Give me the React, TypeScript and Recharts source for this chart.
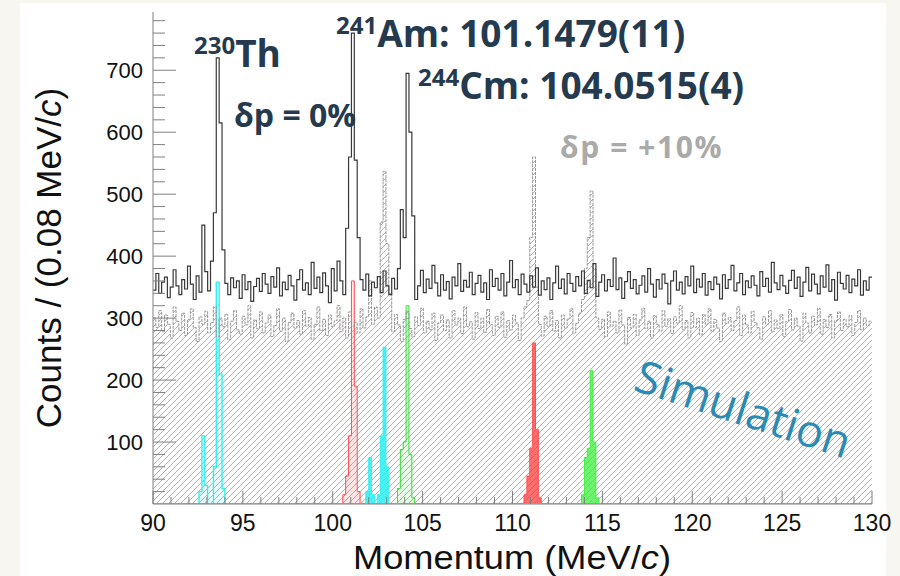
import React from "react";
import { Area, ComposedChart, Line, XAxis, YAxis } from "recharts";

// bin layout (MeV/c)
const xMin = 90;
const xMax = 130;
const binWidth = 0.16;

const countsNominal = [
  345, 372, 340, 358, 366, 333, 350, 378, 352, 338,
  362, 347, 384, 355, 330, 368, 342, 450, 375, 344,
  392, 470, 720, 615, 410, 356, 338, 365, 349, 360,
  332, 370, 346, 359, 327, 351, 364, 343, 372, 355,
  340, 367, 350, 381, 336, 358, 346, 369, 352, 329,
  362, 378, 345, 357, 338, 390, 348, 366, 341, 373,
  352, 325, 380, 344, 392, 360, 338, 445, 560, 760,
  555, 430, 362, 345, 371, 336, 358, 349, 367, 341,
  376, 352, 338, 364, 347, 380, 475, 430, 695, 600,
  465, 330, 352, 377, 341, 363, 348, 385, 357, 336,
  370, 345, 359, 331, 366, 352, 388, 343, 361, 350,
  374, 338, 356, 369, 342, 357, 330, 378, 351, 364,
  345, 372, 336, 358, 393, 349, 362, 338, 371, 355,
  342, 368, 350, 381, 337, 360, 346, 365, 330, 357,
  384, 348, 363, 339, 372, 356, 343, 367, 352, 376,
  340, 361, 349, 388, 335, 358, 370, 344, 362, 351,
  397, 346, 365, 332, 359, 375, 348, 362, 339, 353,
  368, 342, 380, 355, 334, 362, 347, 371, 356, 323,
  360, 376, 345, 358, 339, 367, 352, 384, 341, 363,
  350, 372, 337, 359, 346, 366, 355, 331, 370, 348,
  362, 385, 344, 357, 372, 338, 360, 349, 368, 353,
  336, 375, 351, 364, 342, 390, 357, 346, 369, 352,
  340, 361, 377, 348, 366, 335, 358, 382, 344, 371,
  355, 339, 368, 350, 386, 343, 362, 329, 374, 356,
  347, 369, 341, 363, 352, 378, 337, 360, 345, 366,
];

// measured spectrum, dp = +10%
const countsShifted = [
  300, 285, 312, 278, 305, 290, 268, 318, 295, 280,
  308, 272, 298, 315, 285, 262, 302, 290, 311, 276,
  293, 318, 270, 300, 286, 306, 265, 295, 312, 281,
  274, 303, 289, 320, 268, 297, 283, 310, 276, 292,
  305, 270, 288, 315, 279, 300, 262, 293, 308, 284,
  296, 274, 312, 287, 301, 266, 290, 318, 280, 298,
  272, 305, 286, 296, 320, 278, 300, 268, 310, 287,
  293, 276, 315, 284, 302, 360, 290, 318, 300, 455,
  537, 420, 340, 278, 306, 289, 262, 298, 311, 283,
  270, 302, 288, 316, 276, 295, 281, 308, 264, 292,
  305, 280, 297, 268, 312, 289, 300, 275, 318, 286,
  294, 266, 309, 283, 300, 277, 314, 290, 272, 303,
  285, 310, 269, 296, 281, 305, 292, 264, 300, 318,
  328, 430, 560, 350, 290, 271, 303, 287, 312, 279,
  296, 268, 305, 284, 299, 315, 276, 292, 308, 330,
  380, 430, 505, 380, 300, 282, 298, 270, 310, 287,
  295, 276, 313, 289, 258, 301, 284, 306, 272, 297,
  316, 283, 295, 268, 304, 290, 279, 312, 287, 299,
  275, 302, 292, 320, 281, 296, 268, 309, 285, 300,
  273, 306, 290, 315, 279, 298, 284, 262, 308, 291,
  301, 280, 296, 318, 272, 305, 289, 276, 311, 293,
  285, 266, 302, 290, 312, 278, 297, 283, 306, 270,
  295, 314, 281, 300, 287, 263, 308, 292, 276, 303,
  289, 316, 274, 298, 285, 306, 268, 296, 310, 280,
  298, 286, 304, 272, 293, 312, 281, 300, 288, 295,
];

// simulated peaks: [bin low edge, counts]
const thSimNominal: [number, number][] = [
  [92.56, 20], [92.72, 110], [92.88, 30], [93.36, 60], [93.52, 358], [93.68, 210], [93.84, 25],
];
const thSimShifted: [number, number][] = [
  [101.84, 20], [102.0, 75], [102.16, 15], [102.48, 15], [102.64, 110], [102.8, 253], [102.96, 60],
];
const amSimNominal: [number, number][] = [
  [100.56, 15], [100.72, 45], [100.88, 110], [101.04, 360], [101.2, 190], [101.36, 20],
];
const amSimShifted: [number, number][] = [
  [110.64, 15], [110.8, 45], [110.96, 90], [111.12, 260], [111.28, 120], [111.44, 10],
];
const cmSimNominal: [number, number][] = [
  [103.6, 25], [103.76, 88], [103.92, 100], [104.08, 320], [104.24, 80], [104.4, 10],
];
const cmSimShifted: [number, number][] = [
  [113.84, 15], [114.0, 75], [114.16, 90], [114.32, 215], [114.48, 100], [114.64, 10],
];

const xTicks = [
  90, 91, 92, 93, 94, 95, 96, 97, 98, 99, 100, 101, 102, 103, 104, 105, 106, 107, 108, 109, 110,
  111, 112, 113, 114, 115, 116, 117, 118, 119, 120, 121, 122, 123, 124, 125, 126, 127, 128, 129, 130,
];
const yTicks = [
  20, 40, 60, 80, 100, 120, 140, 160, 180, 200, 220, 240, 260, 280, 300, 320, 340, 360, 380, 400,
  420, 440, 460, 480, 500, 520, 540, 560, 580, 600, 620, 640, 660, 680, 700, 720, 740, 760, 780,
];

const simKeys: [string, [number, number][]][] = [
  ["thNom", thSimNominal],
  ["thShift", thSimShifted],
  ["amNom", amSimNominal],
  ["amShift", amSimShifted],
  ["cmNom", cmSimNominal],
  ["cmShift", cmSimShifted],
];

type Row = { [k: string]: number };

function buildTable(): Row[] {
  const rows: Row[] = countsNominal.map((v, i) => ({
    x: Number((xMin + i * binWidth).toFixed(2)),
    nominal: v,
    shifted: countsShifted[i],
    thNom: 0,
    thShift: 0,
    amNom: 0,
    amShift: 0,
    cmNom: 0,
    cmShift: 0,
  }));
  simKeys.forEach(([key, pts]) => {
    pts.forEach(([edge, c]) => {
      const idx = Math.round((edge - xMin) / binWidth);
      if (rows[idx]) rows[idx][key] = c;
    });
  });
  // closing edge so the last bin gets its full width
  rows.push({ ...rows[rows.length - 1], x: xMax });
  return rows;
}

const table = buildTable();

const navy = "#253a4e";
const frame = "#808080";

function YTick(props: any) {
  const { x, y, payload } = props;
  const major = payload.value % 100 === 0;
  return (
    <g>
      <line x1={x} x2={x + (major ? 23 : 12)} y1={y} y2={y} stroke={frame} strokeWidth={1} />
      {major && (
        <text
          x={x - 10}
          y={y + 8}
          textAnchor="end"
          fontFamily="Liberation Sans, Arial, sans-serif"
          fontSize={22}
          fill="#111"
        >
          {payload.value}
        </text>
      )}
    </g>
  );
}

function XTick(props: any) {
  const { x, y, payload } = props;
  const major = payload.value % 5 === 0;
  return (
    <g>
      <line x1={x} x2={x} y1={y} y2={y - (major ? 13 : 7)} stroke={frame} strokeWidth={1} />
      {major && (
        <text
          x={x}
          y={y + 27}
          textAnchor="middle"
          fontFamily="Liberation Sans, Arial, sans-serif"
          fontSize={23}
          fill="#111"
        >
          {payload.value}
        </text>
      )}
    </g>
  );
}

export default function App() {
  return (
    <div style={{ position: "relative", width: 900, height: 576, background: "#f8f6f1", overflow: "hidden" }}>
      <style>{`body{margin:0}`}</style>
      <div style={{ position: "absolute", left: 20, top: 3, width: 866, height: 573, background: "#fff" }} />
      <div style={{ position: "absolute", left: 0, top: 0 }}>
        <ComposedChart width={900} height={576} data={table} margin={{ top: 12, right: 28, left: 93, bottom: 42 }}>
          <defs>
            <pattern id="hatch" patternUnits="userSpaceOnUse" width="6" height="6">
              <path d="M-1,1 l2,-2 M0,6 l6,-6 M5,7 l2,-2" stroke="#a0a0a0" strokeWidth={0.8} />
            </pattern>
          </defs>
          <XAxis
            dataKey="x"
            type="number"
            domain={[xMin, xMax]}
            ticks={xTicks}
            interval={0}
            tickSize={0}
            tickMargin={0}
            tickLine={false}
            tick={<XTick />}
            axisLine={{ stroke: frame }}
          />
          <XAxis
            xAxisId="top"
            orientation="top"
            dataKey="x"
            type="number"
            domain={[xMin, xMax]}
            height={0}
            tick={false}
            tickLine={false}
            axisLine={{ stroke: frame }}
          />
          <YAxis
            type="number"
            domain={[0, 794]}
            ticks={yTicks}
            interval={0}
            width={60}
            tickSize={0}
            tickMargin={0}
            tickLine={false}
            tick={<YTick />}
            axisLine={{ stroke: frame }}
            allowDataOverflow
          />
          <YAxis
            yAxisId="right"
            orientation="right"
            type="number"
            domain={[0, 794]}
            width={0}
            tick={false}
            tickLine={false}
            axisLine={{ stroke: frame }}
          />

          <Area
            type="stepAfter"
            dataKey="shifted"
            baseValue={0}
            stroke="none"
            fill="url(#hatch)"
            fillOpacity={1}
            dot={false}
            activeDot={false}
            isAnimationActive={false}
          />
          <Line
            type="stepAfter"
            dataKey="shifted"
            stroke="#959595"
            strokeWidth={1}
            strokeDasharray="3 1"
            dot={false}
            activeDot={false}
            isAnimationActive={false}
          />
          <Line
            type="stepAfter"
            dataKey="nominal"
            stroke="#383838"
            strokeWidth={1.2}
            dot={false}
            activeDot={false}
            isAnimationActive={false}
          />

          <Area type="stepAfter" dataKey="amNom" baseValue={0} stroke="#ff4d4d" strokeWidth={1} fill="rgba(255,80,80,0.15)" fillOpacity={1} dot={false} activeDot={false} isAnimationActive={false} />
          <Area type="stepAfter" dataKey="cmNom" baseValue={0} stroke="#33dd33" strokeWidth={1} fill="rgba(60,230,60,0.12)" fillOpacity={1} dot={false} activeDot={false} isAnimationActive={false} />
          <Area type="stepAfter" dataKey="amShift" baseValue={0} stroke="#ff5050" strokeWidth={1} fill="rgba(255,60,60,0.75)" fillOpacity={1} dot={false} activeDot={false} isAnimationActive={false} />
          <Area type="stepAfter" dataKey="cmShift" baseValue={0} stroke="#44ee44" strokeWidth={1} fill="rgba(60,240,60,0.75)" fillOpacity={1} dot={false} activeDot={false} isAnimationActive={false} />
          <Area type="stepAfter" dataKey="thShift" baseValue={0} stroke="#33f0f0" strokeWidth={1} fill="rgba(40,240,240,0.85)" fillOpacity={1} dot={false} activeDot={false} isAnimationActive={false} />
          <Area type="stepAfter" dataKey="thNom" baseValue={0} stroke="#33f0f0" strokeWidth={1.4} fill="rgba(60,240,240,0.12)" fillOpacity={1} dot={false} activeDot={false} isAnimationActive={false} />
        </ComposedChart>
      </div>

      <svg width={900} height={576} style={{ position: "absolute", left: 0, top: 0, pointerEvents: "none" }}>
        <g fontFamily="Open Sans, sans-serif" fontWeight={700} fill={navy}>
          <text x={194} y={67}>
            <tspan fontSize={24} dy={-13}>230</tspan>
            <tspan fontSize={37} dy={13}>Th</tspan>
          </text>
          <text x={336} y={47}>
            <tspan fontSize={24} dy={-13}>241</tspan>
            <tspan fontSize={37} dy={13}>Am: 101.1479(11)</tspan>
          </text>
          <text x={418} y={99}>
            <tspan fontSize={24} dy={-13}>244</tspan>
            <tspan fontSize={37} dy={13}>Cm: 104.0515(4)</tspan>
          </text>
          <text x={234} y={127} fontSize={32}>δp = 0%</text>
          <text x={560} y={158} fontSize={30} fill="#aaaaaa" letterSpacing={1.6}>δp = +10%</text>
        </g>
        <text
          x={743}
          y={425}
          textAnchor="middle"
          transform="rotate(18 743 410)"
          fontFamily="Open Sans, sans-serif"
          fontSize={45}
          fill="#2b8ab3"
        >
          Simulation
        </text>
        <text
          x={512}
          y={569}
          textAnchor="middle"
          fontFamily="Liberation Sans, Arial, sans-serif"
          fontSize={34}
          textLength={318}
          lengthAdjust="spacingAndGlyphs"
          fill="#111"
        >
          Momentum (MeV/<tspan fontStyle="italic">c</tspan>)
        </text>
        <text
          x={0}
          y={0}
          textAnchor="middle"
          transform="translate(61 258) rotate(-90)"
          fontFamily="Liberation Sans, Arial, sans-serif"
          fontSize={35}
          fill="#111"
        >
          Counts / (0.08 MeV/<tspan fontStyle="italic">c</tspan>)
        </text>
      </svg>
    </div>
  );
}
